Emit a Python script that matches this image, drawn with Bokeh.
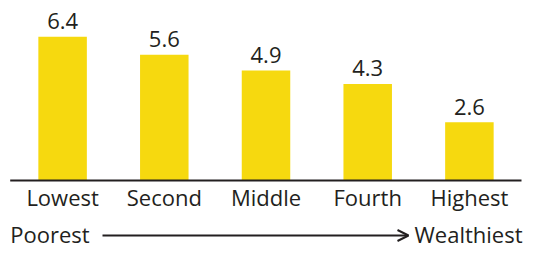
from bokeh.plotting import figure
from bokeh.models import Range1d, ColumnDataSource, Arrow, OpenHead
from bokeh.core.properties import value
from bokeh.embed import file_html
from bokeh.resources import INLINE

categories = ["Lowest", "Second", "Middle", "Fourth", "Highest"]
values = [6.4, 5.6, 4.9, 4.3, 2.6]
value_labels = ["6.4", "5.6", "4.9", "4.3", "2.6"]
axis_start_label = "Poorest"
axis_end_label = "Wealthiest"

FONT = value("Open Sans")
FS = "22px"
TEXT_COLOR = "#231F20"
BAR_COLOR = "#F6D90F"

W, H = 528, 248
step = 101.7           # px per category
first_center = 62.1    # px
base_px = 180          # px from top for value 0
unit_px = 22.45        # px per value unit

x0 = -first_center / step
x1 = (W - first_center) / step
y1 = base_px / unit_px
y0 = -(H - base_px) / unit_px

def px_x(px):
    return x0 + px / step

def px_y(px):
    return (base_px - px) / unit_px

p = figure(width=W, height=H, output_backend="svg", toolbar_location=None,
           x_range=Range1d(x0, x1), y_range=Range1d(y0, y1),
           min_border=0, outline_line_color=None)
p.axis.visible = False
p.grid.visible = False
p.background_fill_color = "white"
p.border_fill_color = "white"

xs = list(range(len(categories)))
src = ColumnDataSource(dict(x=xs, top=values, lab=value_labels, cat=categories))

p.vbar(x="x", top="top", bottom=0, width=48.5 / step, source=src,
       fill_color=BAR_COLOR, line_color=None)

# baseline
p.segment(x0=[px_x(9.7)], y0=[0], x1=[px_x(521)], y1=[0],
          line_color=TEXT_COLOR, line_width=2)

p.text(x="x", y="top", text="lab", source=src, text_font=FONT,
       text_font_size=FS, text_align="center", text_baseline="middle",
       y_offset=-15.5, text_color=TEXT_COLOR)
p.text(x="x", y=0, text="cat", source=src, text_font=FONT,
       text_font_size=FS, text_align="center", text_baseline="middle",
       y_offset=16, text_color=TEXT_COLOR)

p.text(x=[px_x(9.7)], y=[px_y(233)], text=[axis_start_label], text_font=FONT,
       text_font_size=FS, text_align="left", text_baseline="middle",
       text_color=TEXT_COLOR)
p.text(x=[px_x(522)], y=[px_y(233)], text=[axis_end_label], text_font=FONT,
       text_font_size=FS, text_align="right", text_baseline="middle",
       text_color=TEXT_COLOR)
p.add_layout(Arrow(end=OpenHead(size=11, line_color=TEXT_COLOR, line_width=2),
                   x_start=px_x(102), y_start=px_y(235),
                   x_end=px_x(408), y_end=px_y(235),
                   line_color=TEXT_COLOR, line_width=2))

open("out.html", "w").write(file_html(p, INLINE))
